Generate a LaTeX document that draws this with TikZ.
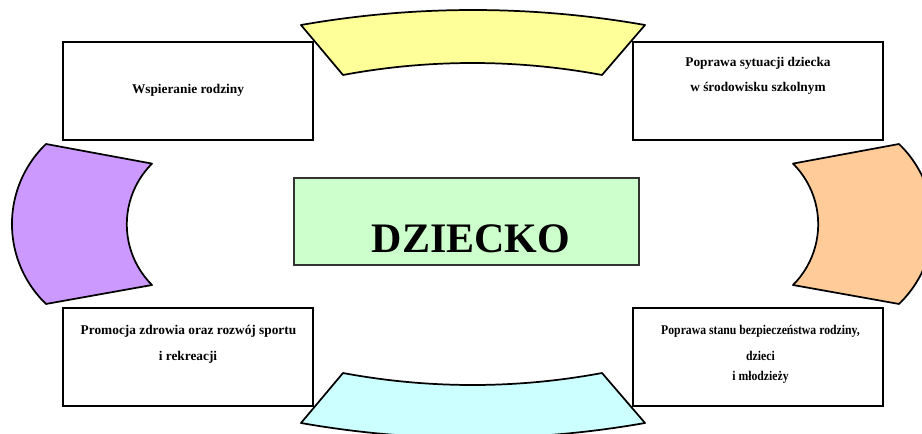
\documentclass[tikz,border=0pt]{standalone}
\usepackage{fontspec}
\setmainfont{Liberation Serif}
\newfontfamily\condfont{Liberation Serif}[FakeStretch=0.88]
\definecolor{cyellow}{HTML}{FFFF99}
\definecolor{cpurple}{HTML}{CC99FF}
\definecolor{corange}{HTML}{FFCC99}
\definecolor{ccyan}{HTML}{CCFFFF}
\definecolor{cgreen}{HTML}{CCFFCC}
\begin{document}
\begin{tikzpicture}[x=0.75pt,y=-0.75pt,
  box/.style={draw=black, line width=1.5pt, fill=white, inner sep=0pt, outer sep=0pt,
    minimum width=187.5pt, minimum height=73.5pt},
  lbl/.style={anchor=base, inner sep=0pt, font=\bfseries\fontsize{10}{12}\selectfont},
  condlbl/.style={anchor=base, inner sep=0pt, font=\condfont\bfseries\fontsize{10}{12}\selectfont},
  petal/.style={draw=black, line width=1.3pt, line join=round}]
\useasboundingbox (0,0) rectangle (922,433);
\clip (0,0) rectangle (922,433);

% boxes
\node[box] (tl) at (188,91) {};
\node[box] (tr) at (758,91) {};
\node[box] (bl) at (188,357) {};
\node[box] (br) at (758,357) {};

% labels
\node[lbl] (tlt) at (188,93) {Wspieranie rodziny};
\node[lbl] (trt1) at (758,66.5) {Poprawa sytuacji dziecka};
\node[lbl] (trt2) at (758,91.5) {w środowisku szkolnym};
\node[lbl] (blt1) at (188.5,334) {Promocja zdrowia oraz rozwój sportu};
\node[lbl] (blt2) at (188,360) {i rekreacji};
\node[condlbl] (brt1) at (760.5,334) {Poprawa stanu bezpieczeństwa rodziny,};
\node[condlbl] (brt2) at (760.5,360) {dzieci};
\node[condlbl] (brt3) at (760.5,380) {i młodzieży};

% centre
\node[draw=black!80, line width=1.2pt, fill=cgreen, inner sep=0pt, outer sep=0pt,
  minimum width=258.75pt, minimum height=65.25pt] (centre) at (466.5,221.5) {};
\node[anchor=base, inner sep=0pt, font=\bfseries\fontsize{31.5}{36}\selectfont] (dz) at (471,252) {DZIECKO};

% top (yellow)
\filldraw[petal, fill=cyellow] (301,25) arc[start angle=-99.97, end angle=-80.03, radius=993.6]
  -- (602,75) arc[start angle=-79.41, end angle=-100.59, radius=704.8] -- cycle;
% bottom (cyan)
\filldraw[petal, fill=ccyan] (301,423) arc[start angle=99.97, end angle=80.03, radius=993.6]
  -- (602,373) arc[start angle=79.41, end angle=100.59, radius=704.8] -- cycle;
% left (purple)
\filldraw[petal, fill=cpurple] (46,144) arc[start angle=226.1, end angle=133.9, radius=111]
  -- (152,285) arc[start angle=134.9, end angle=225.1, radius=85.7] -- cycle;
% right (orange)
\filldraw[petal, fill=corange] (899,144) arc[start angle=-46.1, end angle=46.1, radius=111]
  -- (793,285) arc[start angle=45.1, end angle=-45.1, radius=85.7] -- cycle;
\end{tikzpicture}
\end{document}
